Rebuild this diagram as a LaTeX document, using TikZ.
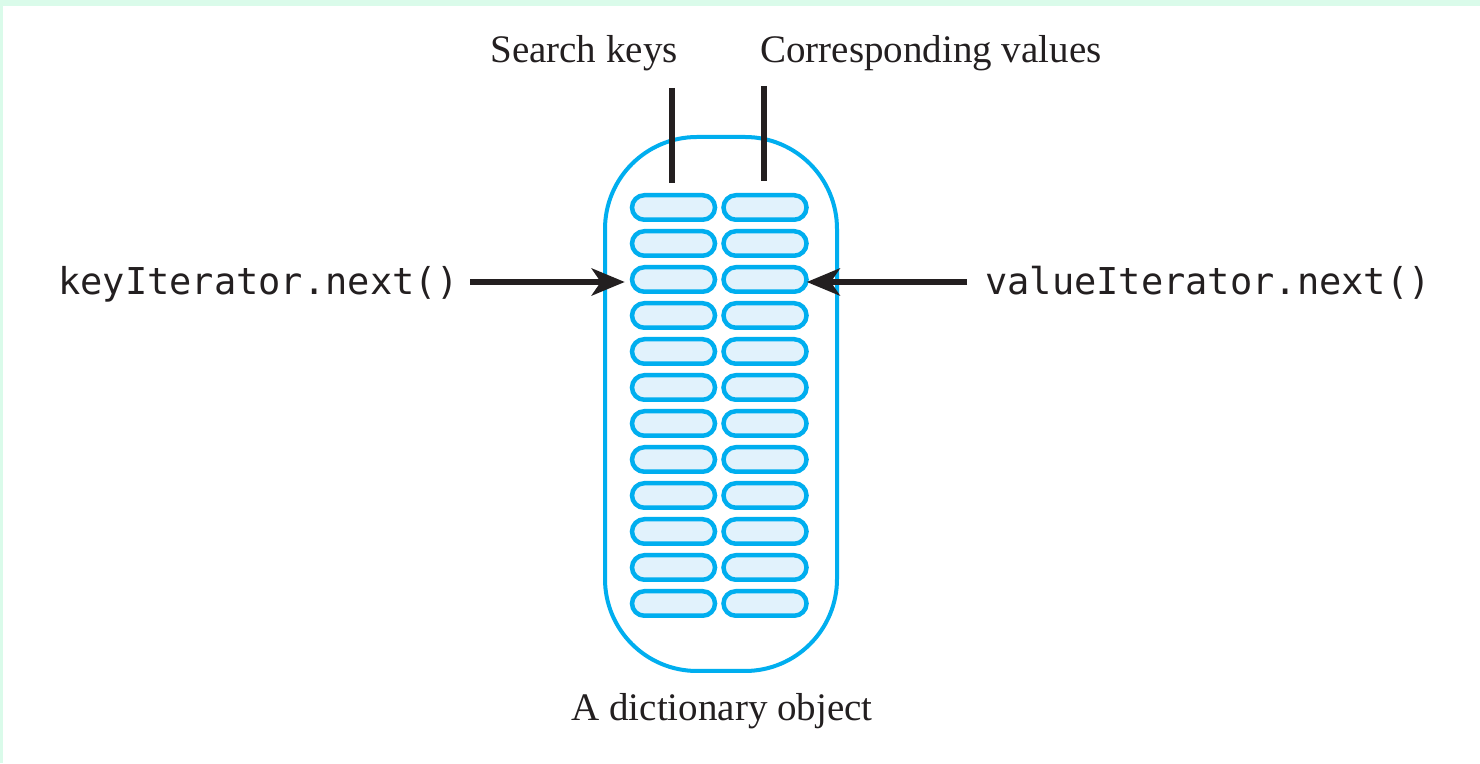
\documentclass[tikz,border=0pt]{standalone}
\usepackage{fontspec}
\setmainfont{Liberation Serif}
\newfontfamily\monofont{DejaVu Sans Mono}
\usetikzlibrary{arrows.meta,shapes.misc}
\definecolor{cyanline}{HTML}{00AEEF}
\definecolor{pillfill}{HTML}{E1F2FC}
\definecolor{inkk}{HTML}{231F20}
\definecolor{framegreen}{HTML}{DAFBEA}
\begin{document}
\begin{tikzpicture}[x=1pt,y=1pt,
  pill/.style={rounded rectangle, draw=cyanline, fill=pillfill, line width=4.5pt,
    minimum width=83pt, minimum height=24.5pt, inner sep=0pt},
  capsule/.style={draw=cyanline, line width=4pt, rounded corners=92pt,
    minimum width=232pt, minimum height=534pt, inner sep=0pt},
  ptr/.style={draw=inkk, line width=6pt},
  arr/.style={ptr, -{Stealth[length=33pt,width=27pt,inset=9pt]}},
  serif/.style={inner sep=0pt, anchor=base, font=\fontsize{39}{45}\selectfont, text=inkk},
  mono/.style={inner sep=0pt, anchor=base west, font=\monofont\fontsize{37}{43}\selectfont, text=inkk}]
% background and frame
\fill[white] (0,0) rectangle (1480,763);
\fill[framegreen] (0,757) rectangle (1480,763);
\fill[framegreen] (0,0) rectangle (3,763);
\useasboundingbox (0,0) rectangle (1480,763);
% dictionary capsule
\node[capsule] (dict) at (721,359) {};
% pills
\foreach \i in {1,...,12}{
  \node[pill] (k\i) at (673.5,{555.5-36*(\i-1)}) {};
  \node[pill] (v\i) at (765,{555.5-36*(\i-1)}) {};
}
% labels
\node[serif] (sk) at (584,700) {Search keys};
\node[serif] (cv) at (931,700) {Corresponding values};
\node[serif] (do) at (722,43) {A dictionary object};
\node[mono] (ki) at (58,468) {keyIterator.next()};
\node[mono] (vi) at (985,468) {valueIterator.next()};
% pointer lines
\coordinate (skt) at (672,675);
\coordinate (cvt) at (764,677);
\draw[ptr] (skt) -- (skt |- 0,580);
\draw[ptr] (cvt) -- (cvt |- 0,582);
% arrows
\coordinate (ka) at (470,481);
\coordinate (va) at (967,481);
\draw[arr, shorten >=5pt] (ka) -- (ka -| k3.west);
\draw[arr, shorten >=-2pt] (va) -- (va -| v3.east);
\end{tikzpicture}
\end{document}
